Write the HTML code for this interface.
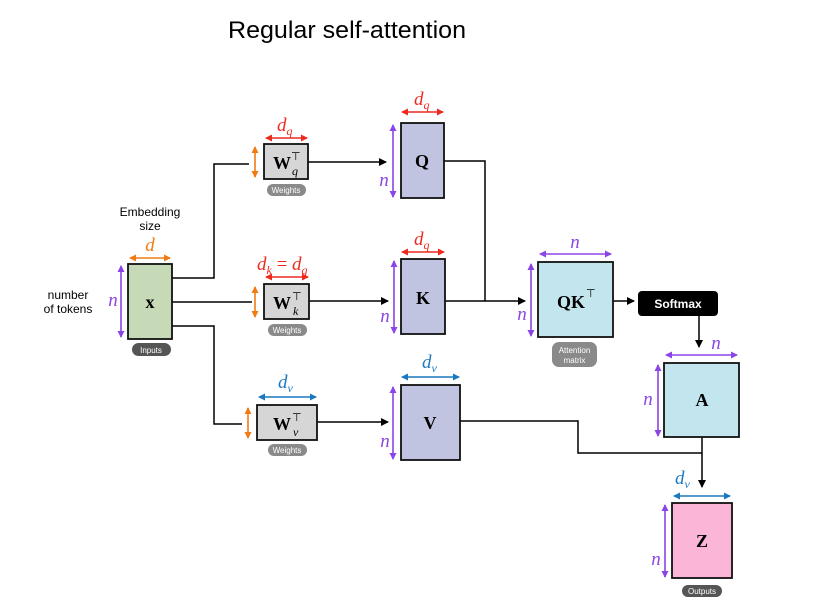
<!DOCTYPE html>
<html><head><meta charset="utf-8"><style>
html,body{margin:0;padding:0;background:#fff;}
svg{display:block;}
.m{font-family:"Liberation Serif",serif;font-style:italic;}
.b{font-family:"Liberation Serif",serif;font-weight:bold;fill:#000;}
.s{font-family:"Liberation Sans",sans-serif;}
.pill{font-family:"Liberation Sans",sans-serif;font-size:8px;fill:#fff;text-anchor:middle;}
</style></head><body>
<svg width="815" height="612" viewBox="0 0 815 612" xmlns="http://www.w3.org/2000/svg">
<defs>
<marker id="ak" markerWidth="8" markerHeight="8" refX="7" refY="4" orient="auto" markerUnits="userSpaceOnUse"><path d="M0,0 L8,4 L0,8 z" fill="#000"/></marker>
<marker id="ap" markerWidth="7" markerHeight="7" refX="6" refY="3.5" orient="auto-start-reverse" markerUnits="userSpaceOnUse"><path d="M0,0 L7,3.5 L0,7 z" fill="#8b45e6"/></marker>
<marker id="ao" markerWidth="7" markerHeight="7" refX="6" refY="3.5" orient="auto-start-reverse" markerUnits="userSpaceOnUse"><path d="M0,0 L7,3.5 L0,7 z" fill="#f07b12"/></marker>
<marker id="ar" markerWidth="7" markerHeight="7" refX="6" refY="3.5" orient="auto-start-reverse" markerUnits="userSpaceOnUse"><path d="M0,0 L7,3.5 L0,7 z" fill="#ee2a1e"/></marker>
<marker id="ab" markerWidth="7" markerHeight="7" refX="6" refY="3.5" orient="auto-start-reverse" markerUnits="userSpaceOnUse"><path d="M0,0 L7,3.5 L0,7 z" fill="#1a78c0"/></marker>
</defs>

<text x="228" y="38" class="s" font-size="24" fill="#000" textLength="238" lengthAdjust="spacingAndGlyphs">Regular self-attention</text>

<text x="150" y="216" class="s" font-size="12" text-anchor="middle">Embedding</text>
<text x="150" y="230" class="s" font-size="12" text-anchor="middle">size</text>
<text x="68" y="299" class="s" font-size="12" text-anchor="middle">number</text>
<text x="68" y="313" class="s" font-size="12" text-anchor="middle">of tokens</text>

<g stroke="#000" stroke-width="1.5" fill="none">
<polyline points="172,278 214,278 214,164 249,164"/>
<line x1="172" y1="302" x2="252" y2="302"/>
<polyline points="172,326 214,326 214,424 242,424"/>
<line x1="308" y1="162" x2="386" y2="162" marker-end="url(#ak)"/>
<line x1="309" y1="301" x2="388" y2="301" marker-end="url(#ak)"/>
<line x1="317" y1="422" x2="388" y2="422" marker-end="url(#ak)"/>
<polyline points="444,161 485,161 485,301"/>
<line x1="445" y1="301" x2="525" y2="301" marker-end="url(#ak)"/>
<line x1="613" y1="301" x2="634" y2="301" marker-end="url(#ak)"/>
<line x1="699" y1="316" x2="699" y2="347" marker-end="url(#ak)"/>
<polyline points="460,421 578,421 578,453 702,453"/>
<line x1="702" y1="437" x2="702" y2="487" marker-end="url(#ak)"/>
</g>

<g stroke="#111" stroke-width="1.8">
<rect x="128" y="264" width="44" height="75" fill="#c6dab8"/>
<rect x="264" y="144" width="44" height="35" fill="#d6d6d6"/>
<rect x="264" y="284" width="45" height="35" fill="#d6d6d6"/>
<rect x="257" y="405" width="60" height="35" fill="#d6d6d6"/>
<rect x="401" y="123" width="43" height="75" fill="#c0c4e0"/>
<rect x="401" y="259" width="44" height="75" fill="#c0c4e0"/>
<rect x="401" y="385" width="59" height="75" fill="#c0c4e0"/>
<rect x="538" y="262" width="75" height="75" fill="#c3e5ee"/>
<rect x="664" y="363" width="75" height="74" fill="#c3e5ee"/>
<rect x="672" y="503" width="60" height="75" fill="#fbb5d6"/>
</g>
<rect x="638" y="291" width="80" height="25" rx="4" fill="#000"/>
<text x="678" y="308" class="s" font-size="12" font-weight="bold" fill="#fff" text-anchor="middle">Softmax</text>

<text x="150" y="308" class="b" font-size="18" text-anchor="middle">x</text>
<text x="273" y="169" class="b" font-size="18">W</text><text x="291" y="160" class="s" font-size="11">⊤</text><text x="292" y="175" class="m" font-size="12">q</text>
<text x="273" y="309" class="b" font-size="18">W</text><text x="292" y="300" class="s" font-size="11">⊤</text><text x="293" y="315" class="m" font-size="12">k</text>
<text x="273" y="430" class="b" font-size="18">W</text><text x="292" y="421" class="s" font-size="11">⊤</text><text x="293" y="436" class="m" font-size="12">v</text>
<text x="422" y="167" class="b" font-size="18" text-anchor="middle">Q</text>
<text x="423" y="304" class="b" font-size="18" text-anchor="middle">K</text>
<text x="430" y="429" class="b" font-size="18" text-anchor="middle">V</text>
<text x="557" y="308" class="b" font-size="18">QK</text><text x="586" y="297" class="s" font-size="11">⊤</text>
<text x="702" y="406" class="b" font-size="18" text-anchor="middle">A</text>
<text x="702" y="547" class="b" font-size="18" text-anchor="middle">Z</text>

<rect x="132" y="343" width="39" height="13" rx="6.5" fill="#555"/><text x="151" y="353" class="pill">Inputs</text>
<rect x="267" y="184" width="39" height="12" rx="6" fill="#8a8a8a"/><text x="286" y="193" class="pill">Weights</text>
<rect x="268" y="324" width="39" height="12" rx="6" fill="#8a8a8a"/><text x="287" y="333" class="pill">Weights</text>
<rect x="268" y="444" width="39" height="12" rx="6" fill="#8a8a8a"/><text x="287" y="453" class="pill">Weights</text>
<rect x="552" y="342" width="45" height="25" rx="7" fill="#8a8a8a"/><text x="574.5" y="353" class="pill">Attention</text><text x="574.5" y="363" class="pill">matrix</text>
<rect x="682" y="585" width="40" height="12" rx="6" fill="#555"/><text x="702" y="594" class="pill">Outputs</text>

<g stroke-width="1.6" fill="none">
<line x1="130" y1="258" x2="170" y2="258" stroke="#f07b12" marker-start="url(#ao)" marker-end="url(#ao)"/>
<line x1="121" y1="266" x2="121" y2="337" stroke="#8b45e6" marker-start="url(#ap)" marker-end="url(#ap)"/>
<line x1="255" y1="147" x2="255" y2="177" stroke="#f07b12" marker-start="url(#ao)" marker-end="url(#ao)"/>
<line x1="255" y1="287" x2="255" y2="317" stroke="#f07b12" marker-start="url(#ao)" marker-end="url(#ao)"/>
<line x1="248" y1="408" x2="248" y2="438" stroke="#f07b12" marker-start="url(#ao)" marker-end="url(#ao)"/>
<line x1="266" y1="138" x2="307" y2="138" stroke="#ee2a1e" marker-start="url(#ar)" marker-end="url(#ar)"/>
<line x1="266" y1="277" x2="308" y2="277" stroke="#ee2a1e" marker-start="url(#ar)" marker-end="url(#ar)"/>
<line x1="259" y1="397" x2="316" y2="397" stroke="#1a78c0" marker-start="url(#ab)" marker-end="url(#ab)"/>
<line x1="402" y1="112" x2="443" y2="112" stroke="#ee2a1e" marker-start="url(#ar)" marker-end="url(#ar)"/>
<line x1="402" y1="252" x2="444" y2="252" stroke="#ee2a1e" marker-start="url(#ar)" marker-end="url(#ar)"/>
<line x1="402" y1="377" x2="459" y2="377" stroke="#1a78c0" marker-start="url(#ab)" marker-end="url(#ab)"/>
<line x1="393" y1="125" x2="393" y2="197" stroke="#8b45e6" marker-start="url(#ap)" marker-end="url(#ap)"/>
<line x1="394" y1="261" x2="394" y2="333" stroke="#8b45e6" marker-start="url(#ap)" marker-end="url(#ap)"/>
<line x1="393" y1="387" x2="393" y2="459" stroke="#8b45e6" marker-start="url(#ap)" marker-end="url(#ap)"/>
<line x1="540" y1="254" x2="611" y2="254" stroke="#8b45e6" marker-start="url(#ap)" marker-end="url(#ap)"/>
<line x1="531" y1="264" x2="531" y2="336" stroke="#8b45e6" marker-start="url(#ap)" marker-end="url(#ap)"/>
<line x1="666" y1="355" x2="737" y2="355" stroke="#8b45e6" marker-start="url(#ap)" marker-end="url(#ap)"/>
<line x1="658" y1="365" x2="658" y2="436" stroke="#8b45e6" marker-start="url(#ap)" marker-end="url(#ap)"/>
<line x1="674" y1="496" x2="730" y2="496" stroke="#1a78c0" marker-start="url(#ab)" marker-end="url(#ab)"/>
<line x1="665" y1="505" x2="665" y2="577" stroke="#8b45e6" marker-start="url(#ap)" marker-end="url(#ap)"/>
</g>

<g class="m" font-size="19">
<text x="150" y="251" fill="#f07b12" text-anchor="middle">d</text>
<text x="113" y="306" fill="#8b45e6" text-anchor="middle">n</text>
<text x="277" y="131" fill="#ee2a1e">d<tspan font-size="12" dy="4">q</tspan></text>
<text x="257" y="270" fill="#ee2a1e">d<tspan font-size="12" dy="4">k</tspan><tspan dy="-4" font-style="normal"> = </tspan>d<tspan font-size="12" dy="4">q</tspan></text>
<text x="278" y="388" fill="#1a78c0">d<tspan font-size="12" dy="4">v</tspan></text>
<text x="414" y="105" fill="#ee2a1e">d<tspan font-size="12" dy="4">q</tspan></text>
<text x="414" y="245" fill="#ee2a1e">d<tspan font-size="12" dy="4">q</tspan></text>
<text x="422" y="368" fill="#1a78c0">d<tspan font-size="12" dy="4">v</tspan></text>
<text x="384" y="186" fill="#8b45e6" text-anchor="middle">n</text>
<text x="385" y="322" fill="#8b45e6" text-anchor="middle">n</text>
<text x="385" y="447" fill="#8b45e6" text-anchor="middle">n</text>
<text x="575" y="248" fill="#8b45e6" text-anchor="middle">n</text>
<text x="522" y="320" fill="#8b45e6" text-anchor="middle">n</text>
<text x="716" y="349" fill="#8b45e6" text-anchor="middle">n</text>
<text x="648" y="405" fill="#8b45e6" text-anchor="middle">n</text>
<text x="675" y="484" fill="#1a78c0">d<tspan font-size="12" dy="4">v</tspan></text>
<text x="656" y="565" fill="#8b45e6" text-anchor="middle">n</text>
</g>
</svg>
</body></html>
